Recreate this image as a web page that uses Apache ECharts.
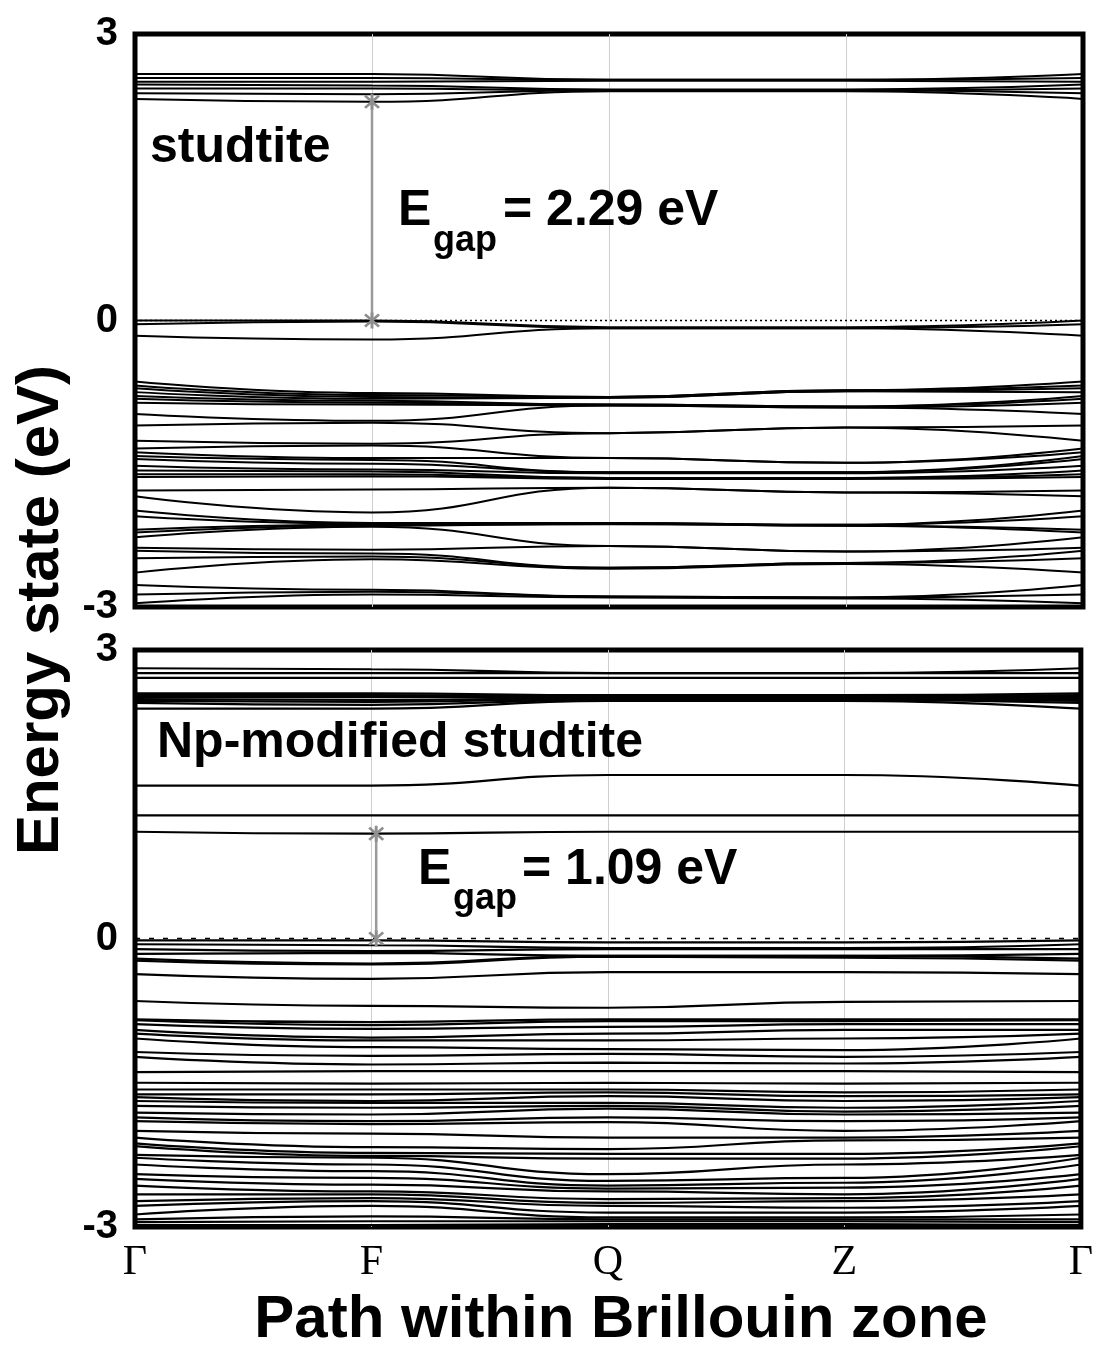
<!DOCTYPE html>
<html>
<head>
<meta charset="utf-8">
<script src="https://cdn.jsdelivr.net/npm/echarts@6/dist/echarts.min.js"></script>
<style>
  html, body { margin: 0; padding: 0; background: #fff; }
  #chart { width: 1096px; height: 1349px; }
</style>
</head>
<body>
<div id="chart"></div>
<script>
// k-path labels
const kLabels = ['Γ', 'F', 'Q', 'Z', 'Γ']
const kPos = [0, 1, 2, 3, 4]

// studtite band energies (eV) at Γ, F, Q, Z (sorted, high to low)
const studG = [2.58, 2.54, 2.50, 2.47, 2.43, 2.38, 2.32,
  0.00, -0.04, -0.16,
  -0.64, -0.68, -0.71, -0.75, -0.79, -0.82, -0.86, -0.98, -1.10, -1.26, -1.34, -1.38, -1.42, -1.45, -1.52, -1.57,
  -1.61, -1.64, -1.78, -1.84, -1.99, -2.05, -2.19, -2.22, -2.27, -2.38, -2.41, -2.49, -2.64, -2.77, -2.87, -2.96]
const studF = [2.58, 2.54, 2.50, 2.46, 2.43, 2.37, 2.29,
  0.00, -0.01, -0.20,
  -0.76, -0.78, -0.80, -0.82, -0.84, -0.86, -0.88, -1.05, -1.07, -1.29, -1.31, -1.44, -1.46, -1.50, -1.56, -1.58,
  -1.61, -1.63, -1.77, -2.01, -2.12, -2.13, -2.14, -2.15, -2.16, -2.40, -2.44, -2.47, -2.50, -2.82, -2.84, -2.87]
const studQ = [2.52, 2.52, 2.51, 2.42, 2.41, 2.41, 2.40,
  -0.07, -0.08, -0.08,
  -0.80, -0.80, -0.81, -0.81, -0.88, -0.88, -0.89, -0.89, -1.18, -1.18, -1.44, -1.44, -1.59, -1.59, -1.60, -1.65,
  -1.65, -1.66, -1.75, -1.75, -2.12, -2.12, -2.13, -2.13, -2.36, -2.36, -2.59, -2.59, -2.60, -2.89, -2.89, -2.90]
const studZ = [2.52, 2.52, 2.51, 2.42, 2.41, 2.41, 2.40,
  -0.07, -0.08, -0.08,
  -0.73, -0.73, -0.74, -0.74, -0.90, -0.90, -0.91, -0.91, -1.12, -1.12, -1.49, -1.49, -1.59, -1.59, -1.60, -1.65,
  -1.65, -1.66, -1.80, -1.80, -2.14, -2.14, -2.15, -2.15, -2.42, -2.42, -2.54, -2.54, -2.55, -2.90, -2.90, -2.91]

// Np-modified studtite band energies (eV) at Γ, F, Q, Z
const npG = [2.81, 2.76, 2.71, 2.55, 2.53, 2.51, 2.49, 2.47, 2.45, 2.39, 1.59, 1.28, 1.11,
  -0.02, -0.06, -0.11, -0.16, -0.21, -0.23, -0.37, -0.65,
  -0.84, -0.85, -0.89, -0.95, -0.99, -1.04, -1.18, -1.23, -1.39, -1.50, -1.57, -1.62, -1.65, -1.69, -1.74, -1.81, -1.86,
  -1.90, -2.00, -2.07, -2.13, -2.16, -2.25, -2.28, -2.35, -2.45, -2.50, -2.57, -2.66, -2.73, -2.78, -2.87, -2.92, -2.95, -2.98]
const npF = [2.80, 2.76, 2.71, 2.55, 2.53, 2.51, 2.48, 2.46, 2.43, 2.39, 1.59, 1.28, 1.09,
  -0.02, -0.07, -0.13, -0.15, -0.26, -0.27, -0.42, -0.70,
  -0.87, -0.90, -0.94, -1.03, -1.06, -1.13, -1.22, -1.31, -1.38, -1.51, -1.57, -1.62, -1.69, -1.71, -1.76, -1.83, -1.90,
  -1.93, -2.03, -2.17, -2.23, -2.26, -2.28, -2.35, -2.42, -2.49, -2.56, -2.63, -2.66, -2.70, -2.73, -2.78, -2.89, -2.94, -2.98]
const npQ = [2.76, 2.76, 2.71, 2.53, 2.52, 2.51, 2.50, 2.49, 2.48, 2.47, 1.70, 1.28, 1.11,
  -0.04, -0.10, -0.11, -0.18, -0.18, -0.19, -0.35, -0.72,
  -0.84, -0.86, -0.92, -0.99, -1.06, -1.15, -1.20, -1.29, -1.38, -1.50, -1.57, -1.60, -1.64, -1.71, -1.74, -1.77, -1.86,
  -1.91, -2.07, -2.19, -2.24, -2.29, -2.45, -2.52, -2.57, -2.60, -2.63, -2.71, -2.75, -2.78, -2.85, -2.90, -2.92, -2.94, -2.97]
const npZ = [2.76, 2.76, 2.71, 2.53, 2.52, 2.51, 2.50, 2.49, 2.48, 2.47, 1.70, 1.28, 1.11,
  -0.04, -0.10, -0.11, -0.18, -0.18, -0.20, -0.35, -0.66,
  -0.84, -0.86, -0.89, -0.95, -1.04, -1.16, -1.23, -1.30, -1.38, -1.51, -1.60, -1.64, -1.69, -1.76, -1.80, -1.83, -1.90,
  -2.00, -2.07, -2.10, -2.24, -2.29, -2.35, -2.49, -2.54, -2.59, -2.66, -2.70, -2.73, -2.80, -2.85, -2.90, -2.92, -2.94, -2.97]

// band gaps, drawn at F
const gapK = [1, 1.02]
const gapValues = [2.29, 1.09]
const panelNames = ['studtite', 'Np-modified studtite']

const sans = '"Liberation Sans", Arial, sans-serif'
const starPath = 'path://M4.2,0 L5.8,0 L5.8,10 L4.2,10 Z M0.6,1.7 L1.7,0.6 L9.4,8.3 L8.3,9.4 Z M8.3,0.6 L9.4,1.7 L1.7,9.4 L0.6,8.3 Z'

const chart = echarts.init(document.getElementById('chart'))

function bandSeries(G, F, Q, Z, idx, width) {
  return G.map((g, i) => ({
    type: 'line',
    xAxisIndex: idx,
    yAxisIndex: idx,
    data: [[kPos[0], g], [kPos[1], F[i]], [kPos[2], Q[i]], [kPos[3], Z[i]], [kPos[4], g]],
    smooth: 0.5,
    smoothMonotone: 'x',
    symbol: 'none',
    silent: true,
    lineStyle: { color: '#000', width: width },
    z: 3
  }))
}

function zeroSeries(idx, dash) {
  return {
    type: 'line',
    xAxisIndex: idx,
    yAxisIndex: idx,
    data: [[kPos[0], 0], [kPos[4], 0]],
    symbol: 'none',
    silent: true,
    lineStyle: { color: '#000', width: 1.6, type: dash },
    z: 4
  }
}

function gapSeries(idx) {
  return {
    type: 'line',
    xAxisIndex: idx,
    yAxisIndex: idx,
    data: [[gapK[idx], 0], [gapK[idx], gapValues[idx]]],
    symbol: starPath,
    symbolSize: 16,
    showSymbol: true,
    silent: true,
    itemStyle: { color: '#8f8f8f' },
    lineStyle: { color: '#9a9a9a', width: 2.5 },
    z: 6
  }
}

function xAxis(idx, showLabels) {
  return {
    type: 'value',
    gridIndex: idx,
    min: 0,
    max: 4,
    interval: 1,
    axisLine: { show: false },
    axisTick: { show: false },
    splitLine: { show: true, showMinLine: false, showMaxLine: false, lineStyle: { color: '#cfcfcf', width: 1 } },
    axisLabel: {
      show: showLabels,
      margin: 15,
      fontFamily: '"Liberation Serif", "Times New Roman", serif',
      fontSize: 42,
      color: '#000',
      formatter: v => kLabels[Math.round(v)]
    }
  }
}

function yAxis(idx) {
  return {
    type: 'value',
    gridIndex: idx,
    min: -3,
    max: 3,
    interval: 3,
    axisLine: { show: false },
    axisTick: { show: false },
    splitLine: { show: false },
    axisLabel: {
      margin: 17,
      padding: [0, 0, 6, 0],
      fontFamily: sans,
      fontWeight: 'bold',
      fontSize: 40,
      color: '#000'
    }
  }
}

function label(text, x, y, size) {
  return {
    type: 'text',
    x: x,
    y: y,
    silent: true,
    z: 10,
    style: {
      text: text,
      font: 'bold ' + size + 'px ' + sans,
      fill: '#000',
      align: 'left',
      verticalAlign: 'middle',
      textAlign: 'left',
      textVerticalAlign: 'middle'
    }
  }
}

const option = {
  animation: false,
  grid: [
    { left: 135, top: 34, width: 948, height: 573, show: true, borderWidth: 5, borderColor: '#000', backgroundColor: 'transparent' },
    { left: 135, top: 650, width: 948, height: 577, show: true, borderWidth: 5, borderColor: '#000', backgroundColor: 'transparent' }
  ],
  xAxis: [xAxis(0, false), xAxis(1, true)],
  yAxis: [yAxis(0), yAxis(1)],
  series: [
    ...bandSeries(studG, studF, studQ, studZ, 0, 2),
    ...bandSeries(npG, npF, npQ, npZ, 1, 2.2),
    zeroSeries(0, [2, 3]),
    zeroSeries(1, [5, 9]),
    gapSeries(0),
    gapSeries(1)
  ],
  graphic: [
    label(panelNames[0], 150, 148, 50),
    label(panelNames[1], 157, 743, 50),
    label('E', 398, 211, 50),
    label('gap', 433, 241, 36),
    label('= ' + gapValues[0].toFixed(2) + ' eV', 503, 211, 50),
    label('E', 418, 870, 50),
    label('gap', 453, 899, 36),
    label('= ' + gapValues[1].toFixed(2) + ' eV', 522, 870, 50),
    {
      type: 'text', x: 41, y: 610, rotation: Math.PI / 2, silent: true, z: 10,
      style: {
        text: 'Energy state (eV)', font: 'bold 60px ' + sans, fill: '#000',
        align: 'center', verticalAlign: 'middle', textAlign: 'center', textVerticalAlign: 'middle'
      }
    },
    {
      type: 'text', x: 621, y: 1320, silent: true, z: 10,
      style: {
        text: 'Path within Brillouin zone', font: 'bold 60px ' + sans, fill: '#000',
        align: 'center', verticalAlign: 'middle', textAlign: 'center', textVerticalAlign: 'middle'
      }
    }
  ]
}

chart.setOption(option)
</script>
</body>
</html>
